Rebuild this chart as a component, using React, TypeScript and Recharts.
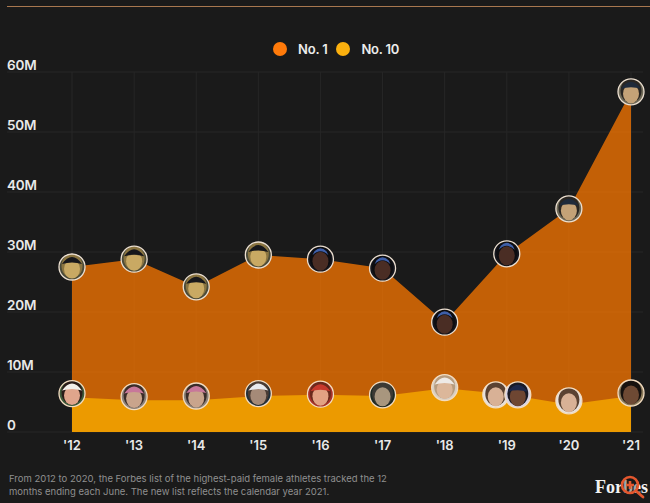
import React from "react";
import { AreaChart, Area, XAxis, YAxis, CartesianGrid, Legend } from "recharts";

const years = ["'12", "'13", "'14", "'15", "'16", "'17", "'18", "'19", "'20", "'21"];
const no1Values = [27.5, 28.8, 24.2, 29.5, 28.8, 27.3, 18.3, 29.7, 37.2, 56.7];
const no10Values = [5.8, 5.3, 5.3, 6.0, 6.2, 6.0, 7.3, 6.3, 4.6, 6.0];
const no10AvatarValues = [6.4, 5.9, 6.0, 6.4, 6.3, 6.2, 7.4, 6.2, 5.2, 6.5];
const yTicks = [0, 10, 20, 30, 40, 50, 60];
const yTickLabels = ["0", "10M", "20M", "30M", "40M", "50M", "60M"];
const no1Athletes = [["capBlack"], ["capBlack"], ["capBlack"], ["capBlack"], ["headband"], ["headband"], ["headband"], ["headband"], ["navyCap"], ["navyCap"]];
const no10Athletes = [["whiteCapRed"], ["pinkCap"], ["pinkCap"], ["whiteCapDark"], ["redVisor"], ["greyHair"], ["paleCap"], ["blonde", "venus"], ["blonde"], ["darkCurls"]];

const data = years.map((year, i) => ({
  year,
  no1: no1Values[i],
  no10: no10Values[i],
}));

type Look = { bg: string; hair: string; skin: string; hat?: string; band?: string };
const looks: Record<string, Look> = {
  capBlack: { bg: "#4a4a38", hair: "#8a7440", skin: "#c9a963", hat: "#17171b" },
  headband: { bg: "#15161d", hair: "#0d0d10", skin: "#4a2d24", band: "#3f5fa8" },
  navyCap: { bg: "#6f6a58", hair: "#2a2622", skin: "#c4a277", hat: "#1f2a3a" },
  whiteCapRed: { bg: "#3d5a3a", hair: "#2a1c18", skin: "#e0a58c", hat: "#f2efe9" },
  pinkCap: { bg: "#8a8078", hair: "#3a2c28", skin: "#c9a48c", hat: "#c8789a" },
  whiteCapDark: { bg: "#22303a", hair: "#4a3c34", skin: "#a58a78", hat: "#e8eaee" },
  redVisor: { bg: "#a8322a", hair: "#6a2a1c", skin: "#e2a283", hat: "#c8392c" },
  greyHair: { bg: "#1f2a24", hair: "#3c3a34", skin: "#a8967e" },
  paleCap: { bg: "#d8cfc4", hair: "#b79c7e", skin: "#dcb79a", hat: "#eeeae6" },
  blonde: { bg: "#e6e2e0", hair: "#5a4232", skin: "#d8b196" },
  venus: { bg: "#d8d4e4", hair: "#1a1a24", skin: "#6e4632", hat: "#1d2748" },
  darkCurls: { bg: "#8a7a5a", hair: "#17120f", skin: "#6e4a34" },
};

const AVATAR_R = 13;

function Avatar({ id, cx, cy, kind, ring }: { id: string; cx: number; cy: number; kind: string; ring: string }) {
  const l = looks[kind];
  return (
    <g>
      <clipPath id={id}>
        <circle cx={cx} cy={cy} r={AVATAR_R} />
      </clipPath>
      <g clipPath={`url(#${id})`}>
        <rect x={cx - AVATAR_R} y={cy - AVATAR_R} width={AVATAR_R * 2} height={AVATAR_R * 2} fill={l.bg} />
        <ellipse cx={cx} cy={cy - 1} rx={10.5} ry={12} fill={l.hair} />
        <ellipse cx={cx} cy={cy + 2} rx={8} ry={9.5} fill={l.skin} />
        {l.hat && <path d={`M${cx - 10} ${cy - 3} Q${cx} ${cy - 17} ${cx + 10} ${cy - 3} Q${cx} ${cy - 6} ${cx - 10} ${cy - 3}Z`} fill={l.hat} />}
        {l.band && <path d={`M${cx - 8} ${cy - 4} Q${cx} ${cy - 12} ${cx + 8} ${cy - 4} L${cx + 6} ${cy - 8} Q${cx} ${cy - 14} ${cx - 6} ${cy - 8}Z`} fill={l.band} />}
      </g>
      <circle cx={cx} cy={cy} r={AVATAR_R} fill="none" stroke={ring} strokeWidth={1.3} />
    </g>
  );
}

function no1Dot(props: any) {
  const { cx, cy, index } = props;
  return <Avatar key={`a1-${index}`} id={`a1-${index}`} cx={cx} cy={cy} kind={no1Athletes[index][0]} ring="#ecdfd0" />;
}

function no10Dot(props: any) {
  const { cx, cy, index } = props;
  const kinds = no10Athletes[index];
  const gap = 22;
  const yOffset = (no10Values[index] - no10AvatarValues[index]) * 6;
  return (
    <g key={`a10-${index}`}>
      {kinds.map((kind, k) => (
        <Avatar
          key={kind}
          id={`a10-${index}-${k}`}
          cx={cx + (k - (kinds.length - 1) / 2) * gap}
          cy={cy + yOffset}
          kind={kind}
          ring="#f3dcc0"
        />
      ))}
    </g>
  );
}

function YTick(props: any) {
  const { y, payload } = props;
  const label = yTickLabels[yTicks.indexOf(payload.value)];
  return (
    <text x={7} y={y - 2} fill="#e9e9e9" fontFamily="Inter" fontWeight={600} fontSize={13.5} letterSpacing={-0.2}>
      {label}
    </text>
  );
}

function XTick(props: any) {
  const { x, y, payload } = props;
  return (
    <text x={x} y={y + 10} textAnchor="middle" fill="#e9e9e9" fontFamily="Inter" fontWeight={600} fontSize={13}>
      {payload.value}
    </text>
  );
}

function LegendContent(props: any) {
  const { payload } = props;
  return (
    <div style={{ display: "flex", alignItems: "center", whiteSpace: "nowrap", fontFamily: "Inter", fontWeight: 600, fontSize: 13, letterSpacing: -0.2, color: "#ececec" }}>
      {(payload || []).map((p: any, i: number) => (
        <div key={p.value} style={{ display: "flex", alignItems: "center", marginRight: 9 }}>
          <span style={{ width: 14, height: 14, borderRadius: 7, background: i === 0 ? "#ff7a0a" : "#fbb00e", marginRight: 11, display: "inline-block" }} />
          {p.value}
        </div>
      ))}
    </div>
  );
}

export default function App() {
  return (
    <div style={{ position: "absolute", left: 0, top: 0, width: 650, height: 503, background: "#1a1a1a", overflow: "hidden" }}>
      <div style={{ position: "absolute", left: 7, top: 6, width: 643, height: 1, background: "#a8774f" }} />
      <AreaChart width={650} height={503} data={data} margin={{ top: 72, right: 7, bottom: 41, left: 6 }}>
        <CartesianGrid stroke="#262626" strokeWidth={1} verticalValues={years} syncWithTicks />
        <XAxis
          dataKey="year"
          scale="point"
          interval={0}
          padding={{ left: 65, right: 12 }}
          axisLine={false}
          tickLine={false}
          height={30}
          tick={<XTick />}
        />
        <YAxis domain={[0, 60]} ticks={yTicks} width={1} axisLine={false} tickLine={false} tick={<YTick />} />
        <Legend
          verticalAlign="top"
          content={<LegendContent />}
          wrapperStyle={{ position: "absolute", left: 273, top: 41, width: 0, height: 0, overflow: "visible" }}
        />
        <Area
          name="No. 1"
          dataKey="no1"
          type="linear"
          stroke="none"
          fill="#ff7a00"
          fillOpacity={0.74}
          dot={no1Dot}
          activeDot={false}
          isAnimationActive={false}
        />
        <Area
          name="No. 10"
          dataKey="no10"
          type="linear"
          stroke="none"
          fill="#ec9a00"
          fillOpacity={1}
          dot={no10Dot}
          activeDot={false}
          isAnimationActive={false}
        />
      </AreaChart>
      <div style={{ position: "absolute", left: 9, top: 472, width: 420, fontFamily: "Inter", fontSize: 9.5, lineHeight: "13px", color: "#8f8f8f" }}>
        From 2012 to 2020, the Forbes list of the highest-paid female athletes tracked the 12
        <br />
        months ending each June. The new list reflects the calendar year 2021.
      </div>
      <div style={{ position: "absolute", left: 595, top: 477, fontFamily: "Liberation Serif", fontWeight: 700, fontSize: 18, lineHeight: "20px", color: "#f2f2f2" }}>
        Forbes
      </div>
      <svg style={{ position: "absolute", left: 615, top: 470 }} width={35} height={33}>
        <circle cx={15} cy={15} r={8} fill="rgba(26,26,26,0.35)" stroke="#e4572e" strokeWidth={2.6} />
        <path d="M15 11 V19 M11 15 H19" stroke="#e4572e" strokeWidth={2.6} />
        <path d="M21 21 L28 27" stroke="#e4572e" strokeWidth={2.8} strokeLinecap="round" />
      </svg>
    </div>
  );
}
